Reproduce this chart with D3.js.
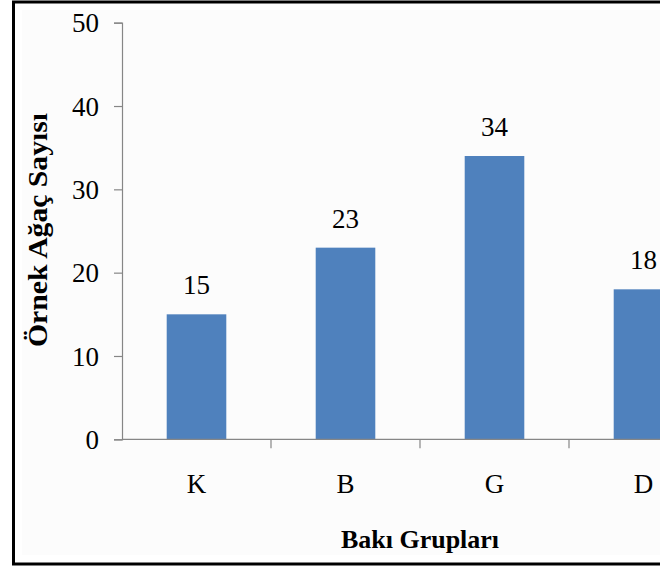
<!DOCTYPE html>
<html>
<head>
<meta charset="utf-8">
<script src="https://cdn.jsdelivr.net/npm/d3@7/dist/d3.min.js"></script>
<style>
  html, body { margin: 0; padding: 0; background: #ffffff; }
  svg { display: block; }
  text { font-family: "Liberation Serif", "Times New Roman", serif; fill: #000; }
</style>
</head>
<body>
<svg id="chart" width="660" height="567"></svg>
<script>
// Örnek ağaç sayıları, bakı gruplarına göre
const categories = ["K", "B", "G", "D"];
const treeCounts = [15, 23, 34, 18];
const yTicks = [0, 10, 20, 30, 40, 50];
const xTitle = "Bakı Grupları";
const yTitle = "Örnek Ağaç Sayısı";

const svg = d3.select("#chart");

// outer frame (open to the right, where the chart is cut off)
svg.append("rect")
  .attr("x", 13.5).attr("y", 2).attr("width", 800).attr("height", 562)
  .attr("fill", "#ffffff").attr("stroke", "#000").attr("stroke-width", 3);
svg.append("rect")
  .attr("x", 22).attr("y", 10).attr("width", 700).attr("height", 545)
  .attr("fill", "#fcfcfc");

const plot = { left: 122, right: 718, top: 22.7, bottom: 439.3 };

const y = d3.scaleLinear().domain([0, 50]).range([plot.bottom, plot.top]);
const x = d3.scaleBand().domain(categories).range([plot.left, plot.right])
  .paddingInner(0.6).paddingOuter(0.3);
const xCat = d3.scaleBand().domain(categories).range([plot.left, plot.right]);

// y axis
const yAxis = svg.append("g")
  .attr("transform", `translate(${plot.left},0)`)
  .call(d3.axisLeft(y).tickValues(yTicks).tickSize(8).tickPadding(15))
  .attr("font-family", null).attr("font-size", null);
yAxis.select(".domain").attr("stroke", "#868686").attr("stroke-width", 1.2);
yAxis.selectAll(".tick line").attr("stroke", "#868686").attr("stroke-width", 1.2);
yAxis.selectAll(".tick text")
  .style("font-size", "27px").attr("fill", "#000").attr("dy", "0.34em");

// bars
const data = categories.map((c, i) => ({ cat: c, value: treeCounts[i] }));
svg.append("g").selectAll("rect").data(data).join("rect")
  .attr("x", d => x(d.cat))
  .attr("y", d => y(d.value))
  .attr("width", x.bandwidth())
  .attr("height", d => y(0) - y(d.value))
  .attr("fill", "#4f81bd");

// x axis baseline and category separators
svg.append("line")
  .attr("x1", plot.left).attr("x2", plot.right)
  .attr("y1", y(0)).attr("y2", y(0))
  .attr("stroke", "#868686").attr("stroke-width", 1.2);
const bounds = categories.map(c => xCat(c)).concat([plot.right]);
svg.append("g").selectAll("line").data(bounds.slice(1)).join("line")
  .attr("x1", d => d).attr("x2", d => d)
  .attr("y1", y(0)).attr("y2", y(0) + 9)
  .attr("stroke", "#868686").attr("stroke-width", 1.2);

// category labels
svg.append("g").selectAll("text").data(categories).join("text")
  .attr("x", d => xCat(d) + xCat.bandwidth() / 2)
  .attr("y", 493)
  .attr("text-anchor", "middle")
  .style("font-size", "27px")
  .text(d => d);

// value labels
svg.append("g").selectAll("text").data(data).join("text")
  .attr("x", d => x(d.cat) + x.bandwidth() / 2)
  .attr("y", d => y(d.value) - 20)
  .attr("text-anchor", "middle")
  .style("font-size", "27px")
  .text(d => d.value);

// axis titles
svg.append("text")
  .attr("x", 420).attr("y", 548)
  .attr("text-anchor", "middle")
  .style("font-size", "26px").style("font-weight", "bold")
  .text(xTitle);

svg.append("text")
  .attr("transform", "translate(47,230) rotate(-90)")
  .attr("text-anchor", "middle")
  .attr("textLength", 234).attr("lengthAdjust", "spacingAndGlyphs")
  .style("font-size", "27px").style("font-weight", "bold")
  .text(yTitle);
</script>
</body>
</html>
